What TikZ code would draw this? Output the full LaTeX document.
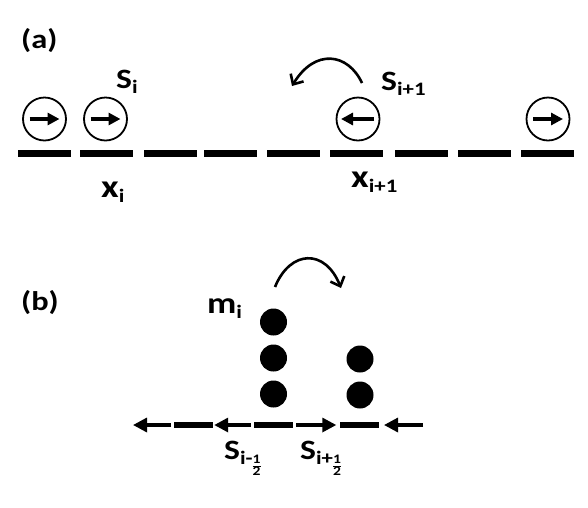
\documentclass[tikz,border=0pt]{standalone}
\usepackage{fontspec}
\setmainfont{Carlito}
\usetikzlibrary{arrows.meta}
\newcommand{\sublbl}[1]{\raisebox{-5pt}{\fontsize{19}{19}\selectfont\bfseries #1}}
\newcommand{\halffrac}{\raisebox{-11pt}{\fontsize{13}{13}\selectfont\bfseries\renewcommand{\arraystretch}{0.8}\setlength{\arrayrulewidth}{1pt}\begin{tabular}{@{}c@{}}1\\\hline 2\end{tabular}}}
\newcommand{\wide}[1]{\scalebox{1.2}[1]{#1}}
\begin{document}
\begin{tikzpicture}[x=1pt,y=-1pt,
  seg/.style={fill=black,draw=none,inner sep=0pt,minimum width=53pt,minimum height=7pt,rectangle},
  segb/.style={fill=black,draw=none,inner sep=0pt,minimum width=39pt,minimum height=6.5pt,rectangle},
  spin/.style={circle,draw=black,line width=1.8pt,minimum size=43pt,inner sep=0pt},
  spinarrow/.style={line width=3.2pt,-{Triangle[length=12pt,width=12pt]}},
  flux/.style={line width=3.2pt,-{Triangle[length=14pt,width=14pt]}},
  dot/.style={circle,fill=black,draw=none,minimum size=27pt,inner sep=0pt},
  hop/.style={line width=2.6pt,-{Straight Barb[length=8pt,width=15pt,line width=2.6pt]}},
  lbl/.style={inner sep=0pt,anchor=base west,font=\bfseries}]
\useasboundingbox (0,0) rectangle (588,507);
% (a)
\node[lbl,font=\fontsize{27}{27}\selectfont\bfseries] (la) at (21,48) {\wide{(a)}};
\foreach \i/\x in {1/44,2/106,3/170,4/230.5,5/293,6/356.5,7/421.5,8/484,9/547.5}
  \node[seg] (s\i) at (\x,153.5) {};
\node[spin] (c1) at (44.5,119) {};
\node[spin] (c2) at (105.5,119) {};
\node[spin] (c3) at (358,119) {};
\node[spin] (c4) at (548,119) {};
\draw[spinarrow] ([xshift=-15pt]c1.center) -- ([xshift=15pt]c1.center);
\draw[spinarrow] ([xshift=-15pt]c2.center) -- ([xshift=15pt]c2.center);
\draw[spinarrow] ([xshift=16pt]c3.center) -- ([xshift=-17pt]c3.center);
\draw[spinarrow] ([xshift=-15pt]c4.center) -- ([xshift=15pt]c4.center);
\node[lbl,font=\fontsize{28}{28}\selectfont\bfseries] (Si) at (116,88) {\wide{S\sublbl{i}}};
\node[lbl,font=\fontsize{32}{32}\selectfont\bfseries] (xi) at (101,197) {\wide{x\sublbl{i}}};
\node[lbl,font=\fontsize{28}{28}\selectfont\bfseries] (Sip) at (381,90) {\wide{S\sublbl{i+1}}};
\node[lbl,font=\fontsize{32}{32}\selectfont\bfseries] (xip) at (351,187) {\wide{x\sublbl{i+1}}};
\coordinate (ha) at (362,83);
\coordinate (ta) at (292,86);
\draw[hop] (ha) .. controls (348,53) and (315,48) .. (ta);
% (b)
\node[lbl,font=\fontsize{27}{27}\selectfont\bfseries] (lb) at (21,310) {\wide{(b)}};
\node[segb] (b1) at (193.5,425) {};
\node[segb] (b2) at (273.5,425) {};
\node[segb] (b3) at (359,425) {};
\coordinate (f0s) at (171,425); \coordinate (f0e) at (133,425);
\coordinate (f4s) at (423,425); \coordinate (f4e) at (384,425);
\draw[flux] (f0s) -- (f0e);
\draw[flux] ([xshift=-3pt]b2.west) -- ([xshift=1pt]b1.east);
\draw[flux] ([xshift=3pt]b2.east) -- ([xshift=-3pt]b3.west);
\draw[flux] (f4s) -- (f4e);
\node[dot] (d1) at (273.5,322) {};
\node[dot] (d2) at (273.5,358) {};
\node[dot] (d3) at (273.5,394) {};
\node[dot] (d4) at (360,359) {};
\node[dot] (d5) at (360,395) {};
\node[lbl,font=\fontsize{30}{30}\selectfont\bfseries] (mi) at (207,313) {\wide{m\sublbl{i}}};
\coordinate (hb1) at (275,287);
\coordinate (hb2) at (341,288);
\draw[hop] (hb1) .. controls (290,250) and (325,248) .. (hb2);
\node[lbl,font=\fontsize{28}{28}\selectfont\bfseries] (Sm) at (224,459) {\wide{S\sublbl{i-}\halffrac}};
\node[lbl,font=\fontsize{28}{28}\selectfont\bfseries] (Sp) at (300,459) {\wide{S\sublbl{i+}\halffrac}};
\end{tikzpicture}
\end{document}
